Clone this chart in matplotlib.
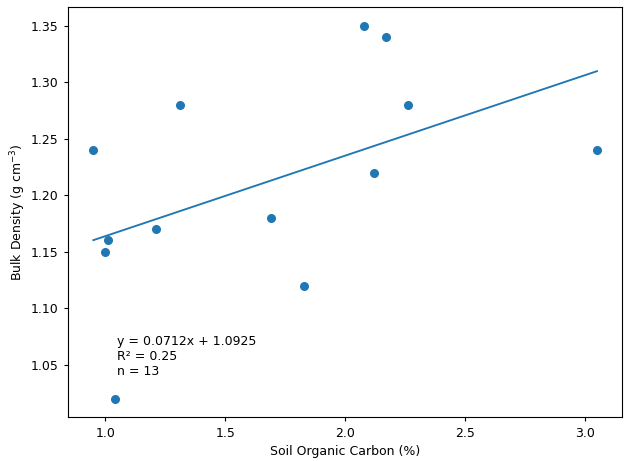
import numpy as np
import matplotlib
matplotlib.use("Agg")
import matplotlib.pyplot as plt

soc = [0.95, 1.00, 1.01, 1.04, 1.21, 1.31, 1.69, 1.83, 2.08, 2.12, 2.17, 2.26, 3.05]
bd = [1.24, 1.15, 1.16, 1.02, 1.17, 1.28, 1.18, 1.12, 1.35, 1.22, 1.34, 1.28, 1.24]

slope = 0.0712
intercept = 1.0925

plt.rcParams["font.size"] = 9

fig = plt.figure(figsize=(6.31, 4.61), dpi=100)
ax = fig.add_axes([0.108, 0.095, 0.878, 0.89])

ax.scatter(soc, bd, color="C0", s=30)
xl = np.array([min(soc), max(soc)])
ax.plot(xl, slope * xl + intercept, color="C0", lw=1.35)

ax.text(1.05, 1.038, "y = 0.0712x + 1.0925\nR² = 0.25\nn = 13", va="bottom", ha="left")

ax.set_xlabel("Soil Organic Carbon (%)")
ax.set_ylabel("Bulk Density (g cm$^{-3}$)", labelpad=2)
ax.set_yticks([1.05, 1.10, 1.15, 1.20, 1.25, 1.30, 1.35])
ax.tick_params(length=3.2)

fig.savefig("out.png", dpi=100)
